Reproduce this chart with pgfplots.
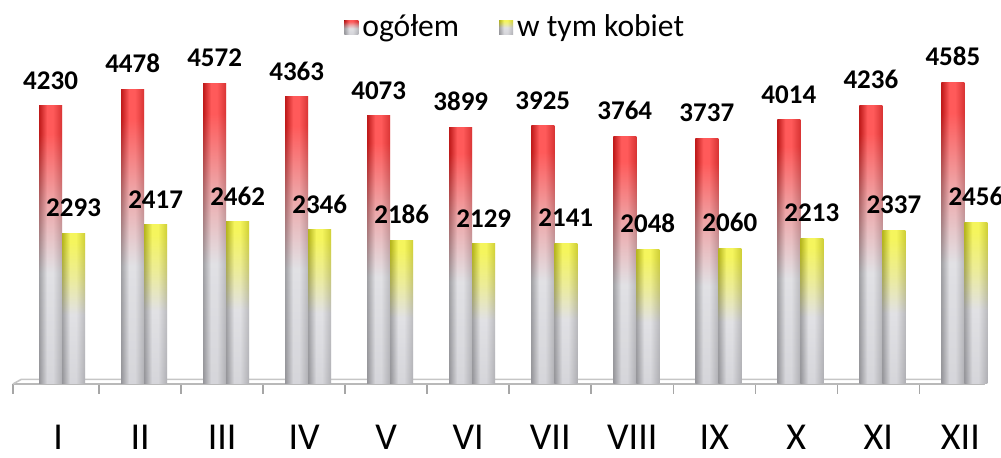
\documentclass[border=0pt]{standalone}
\usepackage{fontspec}
\setmainfont{Carlito}
\usepackage{pgfplots}
\pgfplotsset{compat=1.18}
\definecolor{barbot}{RGB}{200,200,206}
\definecolor{barmid}{RGB}{215,215,220}
\definecolor{rtop}{RGB}{255,35,35}
\definecolor{ytop}{RGB}{242,242,40}
\pgfdeclareverticalshading{redbar}{100bp}{color(0bp)=(barbot); color(25bp)=(barbot); color(45bp)=(barmid); color(58bp)=(rtop!45!barmid); color(70bp)=(rtop); color(100bp)=(rtop)}
\pgfdeclareverticalshading{yelbar}{100bp}{color(0bp)=(barbot); color(25bp)=(barbot); color(48bp)=(barmid); color(60bp)=(ytop!55!barmid); color(72bp)=(ytop); color(100bp)=(ytop)}
\pgfdeclarehorizontalshading{cyl}{100bp}{color(0bp)=(black); color(25bp)=(black); color(42bp)=(white); color(55bp)=(white); color(75bp)=(black!60); color(100bp)=(black!60)}
\pgfplotsset{
  rb/.style={draw=none, shading=redbar, bar shift=-3.75pt, postaction={shade, shading=cyl, fill opacity=0.25}},
  yb/.style={draw=none, shading=yelbar, bar shift=7.75pt, postaction={shade, shading=cyl, fill opacity=0.25}},
}
\begin{document}
\begin{tikzpicture}
\useasboundingbox (-6.5pt,-37pt) rectangle (494pt,192pt);
\begin{axis}[
  at={(0,0)}, anchor=south west,
  scale only axis, width=486pt, height=164.5pt,
  xmin=-0.55, xmax=11.3, ymin=0, ymax=5000,
  ybar, bar width=11.5pt,
  axis x line*=bottom, hide y axis,
  axis line style={draw=gray!55, line width=1.2pt},
  xtick={0,...,11},
  xticklabels={I,II,III,IV,V,VI,VII,VIII,IX,X,XI,XII},
  major tick length=0pt,
  minor xtick={-0.55,0.5,1.5,...,10.5},
  minor tick length=5pt, tick align=outside,
  minor tick style={draw=gray!70, line width=0.8pt},
  xticklabel style={font=\fontsize{19}{21}\selectfont, anchor=base, yshift=-33pt, inner sep=0pt},
  clip=false,
  /pgf/number format/assume math mode=true,
  /pgf/number format/1000 sep={},
  nodes near coords,
  every node near coord/.append style={font=\bfseries\fontsize{13.5}{15}\selectfont, anchor=south, yshift=8pt, inner sep=0pt},
  legend columns=2,
  legend style={draw=none, fill=none, at={(0.3405,1.085)}, anchor=west, inner sep=0pt,
    font=\fontsize{15.8}{17}\selectfont,
    /tikz/every even column/.append style={column sep=18pt}},
  legend image code/.code={\fill[#1] (0pt,-3.5pt) rectangle (7pt,3.5pt);},
]
\draw[gray!45, line width=0.8pt] (axis cs:-0.55,0) -- (axis cs:-0.45,70) -- (axis cs:11.2,70) -- (axis cs:11.3,0);
% ogółem
\addplot[rb] coordinates {(0,4230)};
\addlegendentry{ogółem}
\addplot[yb] coordinates {(0,2293)};
\addlegendentry{w tym kobiet}
\addplot[rb, forget plot] coordinates {(1,4478)};
\addplot[rb, forget plot] coordinates {(2,4572)};
\addplot[rb, forget plot] coordinates {(3,4363)};
\addplot[rb, forget plot] coordinates {(4,4073)};
\addplot[rb, forget plot] coordinates {(5,3899)};
\addplot[rb, forget plot] coordinates {(6,3925)};
\addplot[rb, forget plot] coordinates {(7,3764)};
\addplot[rb, forget plot] coordinates {(8,3737)};
\addplot[rb, forget plot] coordinates {(9,4014)};
\addplot[rb, forget plot] coordinates {(10,4236)};
\addplot[rb, forget plot] coordinates {(11,4585)};
% w tym kobiet
\addplot[yb, forget plot] coordinates {(1,2417)};
\addplot[yb, forget plot] coordinates {(2,2462)};
\addplot[yb, forget plot] coordinates {(3,2346)};
\addplot[yb, forget plot] coordinates {(4,2186)};
\addplot[yb, forget plot] coordinates {(5,2129)};
\addplot[yb, forget plot] coordinates {(6,2141)};
\addplot[yb, forget plot] coordinates {(7,2048)};
\addplot[yb, forget plot] coordinates {(8,2060)};
\addplot[yb, forget plot] coordinates {(9,2213)};
\addplot[yb, forget plot] coordinates {(10,2337)};
\addplot[yb, forget plot] coordinates {(11,2456)};
\end{axis}
\end{tikzpicture}
\end{document}
